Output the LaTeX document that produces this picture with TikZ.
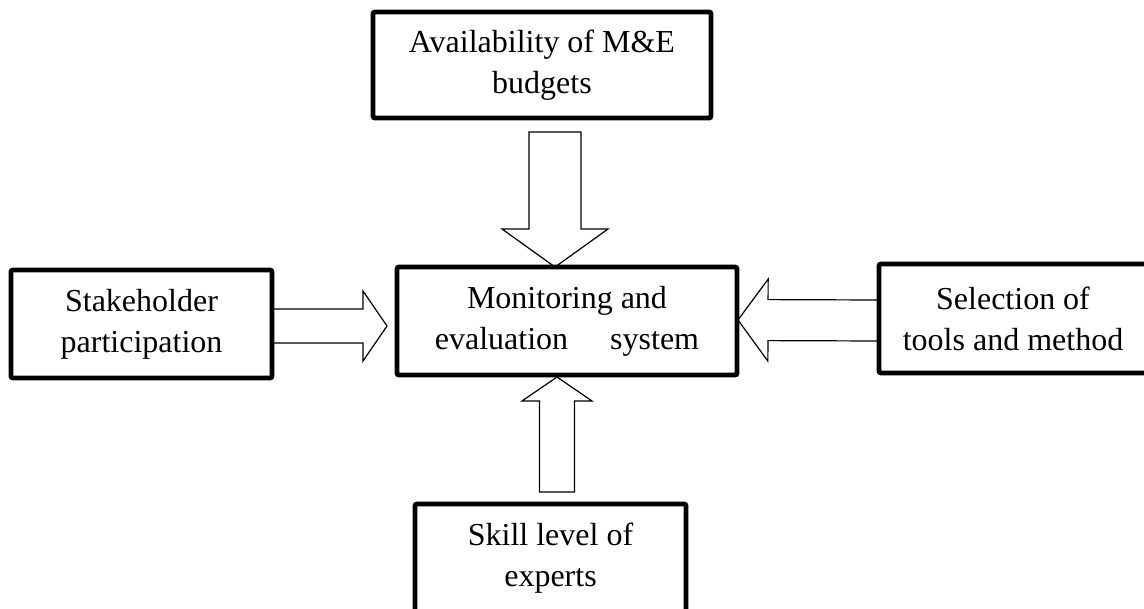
\documentclass[tikz,border=0pt]{standalone}
\usepackage{fontspec}
\setmainfont{Liberation Serif}
\usetikzlibrary{calc, backgrounds}

% hollow block arrow: #1 tail, #2 tip, #3 half shaft, #4 half head, #5 head length
\newcommand{\hollowarrow}[5]{%
  \coordinate (hb) at ($(#2)!#5!(#1)$);
  \draw[hollow] ($(#1)!#3!90:(#2)$) -- ($(hb)!#3!90:(#2)$) -- ($(hb)!#4!90:(#2)$) -- (#2)
    -- ($(hb)!#4!-90:(#2)$) -- ($(hb)!#3!-90:(#2)$) -- ($(#1)!#3!-90:(#2)$) -- cycle;}

\begin{document}
\begin{tikzpicture}[
    x=0.5pt, y=-0.5pt,
    factor/.style={rectangle, draw=black, fill=white, line width=2.4pt,
                   rounded corners=1pt, outer sep=0pt, minimum height=54pt,
                   align=center, font=\fontsize{16}{20.5}\selectfont},
    hollow/.style={draw=black, fill=white, line width=0.6pt, line join=miter},
]
\useasboundingbox (0,0) rectangle (1144,609);
\clip (0,0) rectangle (1144,609);

% ── Factors ──
\node[factor, minimum width=169pt, minimum height=53pt] (budget) at (542,65) {Availability of M\&E\\budgets};
\node[factor, minimum width=170pt] (system) at (567,321) {Monitoring and\\evaluation\hspace{21pt}system};
\node[factor, minimum width=130.5pt] (stake) at (141.5,324) {Stakeholder\\participation};
\node[factor, minimum width=134pt, minimum height=54.5pt] (tools) at (1013,318.5) {Selection of\\tools and method};
\node[factor, minimum width=135.5pt] (skill) at (550.5,558) {Skill level of\\experts};

% ── Arrow ends ──
\coordinate (budgetTail) at ($(budget.south)+(13,14)$);
\coordinate (budgetTip) at ($(system.north)+(-12,0)$);
\coordinate (stakeTail) at ($(stake.east)+(0,2)$);
\coordinate (stakeTip) at ($(system.west)+(-10,5)$);
\coordinate (toolsTail) at ($(tools.west)+(0,2)$);
\coordinate (toolsTip) at ($(system.east)+(1,-1)$);
\coordinate (skillTail) at ($(skill.north)+(6.5,-12)$);
\coordinate (skillTip) at ($(system.south)+(-10,2)$);

% ── Arrows ──
\begin{scope}[on background layer]
\hollowarrow{budgetTail}{budgetTip}{13pt}{26.5pt}{19pt}
\hollowarrow{stakeTail}{stakeTip}{8.5pt}{17.5pt}{12pt}
\hollowarrow{toolsTail}{toolsTip}{10.25pt}{20.5pt}{15pt}
\hollowarrow{skillTail}{skillTip}{8.75pt}{17.5pt}{12pt}
\end{scope}

\end{tikzpicture}
\end{document}
